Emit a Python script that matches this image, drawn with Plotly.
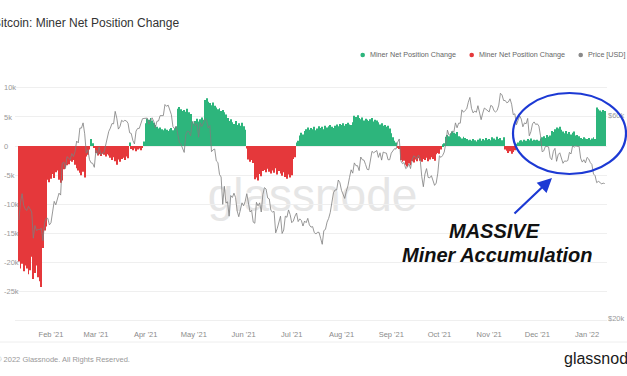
import pandas as pd
import plotly.graph_objects as go

# ---------------- data ----------------
# Miner net position change (BTC), daily, 2021-01-12 .. 2022-01-12
net_jan21 = [-19800, -21000, -20200, -21500, -20500, -21000, -22000, -21300, -19000, -22800,
             -21800, -20500, -22500, -23200, -24200, -17500, -14500, -13800, -5800, -6200]
net_feb21 = [-5600, -4800, -5500, -4500, -4200, -5800, -6300, -5900, -4000, -3600,
             -3300, -3100, -2500, -2700, -2400, -3200, -3800, -4200, -4600, -5000,
             -4400, -5400, -1800, -1500, -600, 1200, 500, -300]
net_mar21 = [-1200, -1600, -1400, -1700, -1300, -1500, -1800, -1400, -1600, -2000,
             -2400, -1900, -2600, -3200, -2300, -2700, -2200, -2000, -2400, -1800,
             -2100, 600, -500, -700, -400, -900, -600, -400, -700, -300, 800]
net_apr21 = [3900, 4700, 4500, 4800, 4400, 4000, 3600, 3300, 3000, 3200,
             2900, 2700, 3000, 2800, 2600, 2900, 3100, 2700, 3000, 3300,
             6400, 6700, 6300, 6000, 6200, 5900, 6400, 5800, 5500, 4200]
net_may21 = [3900, 4300, 4700, 4200, 4600, 4900, 4500, 7900, 8200, 7600,
             7400, 7000, 7500, 6900, 6600, 6300, 6500, 6000, 6200, 5800,
             5400, 4800, 4300, 4600, 4100, 3800, 4300, 3600, 3900, 3500, 4000]
net_jun21 = [3400, 2800, -400, -2300, -2700, -2400, -2900, -5700, -5400, -5900,
             -4800, -5200, -4300, -4100, -4500, -3900, -4400, -4700, -4200, -4600,
             -3800, -4900, -4300, -4700, -5100, -4500, -5300, -5600, -4900, -5400]
net_jul21 = [-5000, -2200, -1900, 600, 900, 1800, 2300, 2000, 2600, 2900,
             3200, 2800, 3100, 2900, 3300, 2700, 3000, 3400, 3100, 3300,
             2900, 3500, 3200, 3400, 3600, 3300, 3100, 3500, 3700, 3400, 3800]
net_aug21 = [3600, 3900, 3500, 3800, 4000, 3700, 3600, 4100, 5200, 5000,
             5300, 4800, 4600, 4900, 4400, 4700, 4500, 4300, 4600, 4800,
             4200, 4500, 4400, 4100, 3700, 3900, 3500, 3600, 3300, 3500, 3000]
net_sep21 = [2200, 1500, 900, 600, -300, -500, -2400, -2700, -2500, -3200,
             -3500, -3000, -3300, -2600, -2800, -2300, -2600, -2100, -2500, -2700,
             -2200, -2400, -2000, -2600, -2300, -1900, -2200, -2500, -1400, -1200]
net_oct21 = [-1300, -600, 300, 500, 1600, 1900, 1700, 2200, 2500, 2300,
             2100, 2400, 1700, 1500, 1300, 1600, 1400, 1200, 1000, 1100,
             900, 1200, 1000, 800, 1100, 1300, 900, 1200, 1000, 1400, 1100]
net_nov21 = [1200, 1000, 1500, 1300, 1100, 1600, 1200, 1400, 1000, 1500,
             -600, -800, -1200, -900, -1300, -1000, -700, 400, 600, 900,
             1000, 800, 1100, 900, 1200, 1000, 1300, 900, 1100, 1000]
net_dec21 = [1100, 900, 1300, 1500, 1700, 1400, 1900, 1600, 1800, 2600,
             2400, 2900, 3200, 3000, 3300, 2800, 2500, 2200, 2600, 2100,
             2400, 2000, 2300, 2500, 1800, 1900, 1700, 1400, 1200, 1500, 1300]
net_jan22 = [1200, 1400, 1100, 1300, 1500, 1200, 6600, 6300, 6100, 5900, 6200, 6000]

# BTC price (USD), daily, same dates
px_jan21 = [34000, 37400, 39200, 36800, 36000, 35800, 36600, 36000, 35500, 30800,
            33000, 32100, 32300, 32300, 32500, 30400, 33400, 34300, 34300, 33100]
px_feb21 = [33500, 35500, 37600, 36900, 38300, 39300, 38900, 46200, 46500, 44900,
            47900, 47500, 47100, 48700, 47900, 49200, 52100, 51600, 55900, 55900,
            57500, 54200, 48800, 49700, 47100, 46300, 46200, 45200]
px_mar21 = [49600, 48400, 50500, 48400, 48800, 48900, 51000, 52400, 54900, 55900,
            57300, 57200, 61200, 59000, 55600, 56400, 58300, 57900, 58300, 58100,
            57400, 54500, 54300, 52300, 51300, 55000, 55800, 55800, 57600, 58800, 58900]
px_apr21 = [59000, 59000, 57100, 58200, 59100, 58000, 56000, 58000, 58100, 59800,
            59900, 59800, 63500, 62900, 63300, 61500, 60100, 56300, 55700, 56500,
            53800, 51700, 51200, 50100, 49000, 54000, 55000, 54800, 53600, 57800]
px_may21 = [57800, 56600, 57200, 53200, 57500, 56400, 57400, 58900, 58200, 55900,
            56700, 49200, 49700, 49900, 46800, 46400, 43500, 42900, 37000, 40800,
            37300, 37500, 34700, 38800, 38400, 39300, 38400, 35700, 34600, 35700, 37300]
px_jun21 = [36700, 37600, 39200, 36900, 35500, 35800, 33600, 33400, 37400, 36700,
            37300, 35500, 39000, 40500, 40200, 38300, 38100, 35800, 35500, 35600,
            31700, 32500, 33700, 34700, 31600, 32200, 34700, 34500, 35900, 35000]
px_jul21 = [33500, 33800, 34700, 35300, 33700, 34200, 33900, 32900, 33800, 33500,
            34300, 33100, 32700, 32800, 31800, 31500, 31800, 31800, 30800, 29800,
            32100, 32300, 33600, 34300, 35400, 37300, 39400, 40000, 40000, 42200, 41600]
px_aug21 = [39900, 39200, 38200, 39700, 40900, 42800, 44600, 43800, 46300, 45600,
            45600, 44400, 47800, 47100, 47000, 45900, 44700, 44600, 46800, 49300,
            48900, 49300, 49500, 47700, 48900, 47000, 49100, 48900, 48800, 47100, 47100]
px_sep21 = [48800, 49300, 50000, 49900, 51800, 52700, 46800, 46100, 46400, 44900,
            45200, 46100, 44900, 47100, 48100, 47800, 47300, 48300, 47300, 43000,
            40700, 43600, 44900, 42800, 42700, 43200, 42200, 41000, 41500, 43800]
px_oct21 = [48100, 47700, 48200, 49100, 51500, 55300, 53800, 53900, 55000, 54700,
            57500, 56000, 57400, 57400, 61700, 60900, 61500, 62000, 64300, 66000,
            62200, 60700, 61300, 60900, 63100, 60300, 58500, 60600, 62300, 61900, 61300]
px_nov21 = [61000, 63200, 62900, 61400, 61000, 61500, 63300, 67500, 66900, 64900,
            64900, 64100, 64400, 65500, 63600, 60100, 60400, 56900, 58100, 59700,
            58700, 56300, 57500, 57200, 58900, 53600, 54800, 57200, 57800, 57000]
px_dec21 = [57200, 56500, 53600, 49200, 49400, 50600, 50600, 50500, 47700, 47100,
            49300, 50100, 46700, 48400, 48900, 47600, 46200, 46800, 46700, 46900,
            49000, 48600, 50800, 50400, 50800, 50600, 50700, 47500, 46500, 47100, 46300]
px_jan22 = [47700, 47300, 46400, 45900, 43600, 43200, 41600, 41900, 41700, 41300, 41500, 41400]

left_tickvals = [-30000, -25000, -20000, -15000, -10000, -5000, 0, 5000, 10000]
left_ticktext = ["-30k", "-25k", "-20k", "-15k", "-10k", "-5k", "0", "5k", "10k"]
right_tickvals = [20000, 60000]
right_ticktext = ["$20k", "$60k"]

net = (net_jan21 + net_feb21 + net_mar21 + net_apr21 + net_may21 + net_jun21 +
       net_jul21 + net_aug21 + net_sep21 + net_oct21 + net_nov21 + net_dec21 + net_jan22)
price = (px_jan21 + px_feb21 + px_mar21 + px_apr21 + px_may21 + px_jun21 +
         px_jul21 + px_aug21 + px_sep21 + px_oct21 + px_nov21 + px_dec21 + px_jan22)
dates = pd.date_range("2021-01-12", periods=len(net), freq="D")
assert len(net) == len(price) == 366

# ---------------- layout helpers ----------------
W, H = 627, 376
ML, MR, MT, MB = 0, 20, 75, 54
PW, PH = W - ML - MR, H - MT - MB


def fx(p):
    return (p - ML) / PW


def fy(p):
    return (H - MB - p) / PH


GREEN = "#2db57c"
RED = "#e5383b"
GREY = "#8a8a8a"
BLUE = "#1c39d4"
FONT = "Liberation Sans, Arial, sans-serif"

bar_colors = [GREEN if v >= 0 else RED for v in net]

fig = go.Figure()
fig.add_trace(go.Bar(x=dates, y=net, marker=dict(color=bar_colors, line=dict(width=0)),
                     name="Miner Net Position Change", showlegend=False))
fig.add_trace(go.Scatter(x=dates, y=price, yaxis="y2", mode="lines",
                         line=dict(color="#7d7d7d", width=0.8), name="Price [USD]",
                         showlegend=False))

annotations = [
    dict(text="Bitcoin: Miner Net Position Change", x=fx(-9.5), y=fy(23), xref="paper", yref="paper",
         xanchor="left", yanchor="middle", showarrow=False, font=dict(size=12, color="#333", family=FONT)),
    dict(text="© 2022 Glassnode. All Rights Reserved.", x=fx(-6), y=fy(359), xref="paper", yref="paper",
         xanchor="left", yanchor="middle", showarrow=False, font=dict(size=7.5, color="#999", family=FONT)),
    dict(text="glassnode", x=fx(562), y=fy(358), xref="paper", yref="paper",
         xanchor="left", yanchor="middle", showarrow=False, font=dict(size=16, color="#1a1a1a", family=FONT)),
    dict(text="<b><i>MASSIVE</i></b>", x=fx(494), y=fy(231), xref="paper", yref="paper",
         xanchor="center", yanchor="middle", showarrow=False, font=dict(size=20, color="#111", family=FONT)),
    dict(text="<b><i>Miner Accumulation</i></b>", x=fx(497), y=fy(255), xref="paper", yref="paper",
         xanchor="center", yanchor="middle", showarrow=False, font=dict(size=20, color="#111", family=FONT)),
    dict(text="", x=fx(552), y=fy(178), xref="paper", yref="paper", showarrow=True,
         ax=513 - 552, ay=215 - 178, axref="pixel", ayref="pixel",
         arrowhead=2, arrowsize=1.3, arrowwidth=2.2, arrowcolor=BLUE, standoff=0, startstandoff=0),
]

legend_items = [(362.7, 367.5, GREEN, "Miner Net Position Change"),
                (471.7, 476.5, RED, "Miner Net Position Change"),
                (580.7, 585.5, GREY, "Price [USD]")]
shapes = []
for dot_x, txt_x, col, label in legend_items:
    shapes.append(dict(type="circle", xref="paper", yref="paper",
                       x0=fx(dot_x - 2.3), x1=fx(dot_x + 2.3), y0=fy(55 + 2.3), y1=fy(55 - 2.3),
                       fillcolor=col, line=dict(width=0)))
    annotations.append(dict(text=label, x=fx(txt_x), y=fy(55), xref="paper", yref="paper",
                            xanchor="left", yanchor="middle", showarrow=False,
                            font=dict(size=7.2, color="#666", family=FONT)))

# watermark (below the data)
shapes.append(dict(type="rect", xref="paper", yref="paper", layer="below",
                   x0=fx(200), x1=fx(425), y0=fy(212), y1=fy(170),
                   line=dict(width=0), fillcolor="rgba(0,0,0,0)",
                   label=dict(text="glassnode", textposition="middle center",
                              font=dict(size=46, color="#e6e6e6", family=FONT))))
# highlight ellipse
shapes.append(dict(type="circle", xref="paper", yref="paper",
                   x0=fx(513), x1=fx(626), y0=fy(174), y1=fy(93),
                   line=dict(color=BLUE, width=2.2)))
# footer divider
shapes.append(dict(type="line", xref="paper", yref="paper",
                   x0=fx(0), x1=fx(627), y0=fy(342), y1=fy(342),
                   line=dict(color="#eeeeee", width=1)))

fig.update_layout(
    width=W, height=H,
    margin=dict(l=ML, r=MR, t=MT, b=MB, pad=0),
    paper_bgcolor="white", plot_bgcolor="white",
    bargap=0.4,
    showlegend=False,
    font=dict(family=FONT),
    xaxis=dict(domain=[fx(15), 1], type="date",
               range=["2021-01-09 14:00", "2022-01-13 10:00"],
               tick0="2021-02-01", dtick="M1", tickformat="%b '%y",
               tickfont=dict(size=7.5, color="#8a8a8a"), ticklabelstandoff=6,
               showgrid=False, zeroline=False, showline=False, ticks=""),
    yaxis=dict(anchor="free", position=0, range=[-30200, 12200],
               tickvals=left_tickvals, ticktext=left_ticktext,
               ticklabelposition="inside", tickfont=dict(size=7.5, color="#999"),
               showgrid=True, gridcolor="#efefef", gridwidth=1,
               zeroline=False, showline=False, ticks=""),
    yaxis2=dict(overlaying="y", side="right", anchor="x", type="log",
                range=[4.2916, 4.8722],
                tickvals=right_tickvals, ticktext=right_ticktext,
                tickfont=dict(size=7.5, color="#999"),
                showgrid=False, zeroline=False, showline=False, ticks=""),
    annotations=annotations,
    shapes=shapes,
)

fig.write_html("out.html", config={"displayModeBar": False},
               post_script="document.body.style.margin='0px';document.body.style.overflow='hidden';")
